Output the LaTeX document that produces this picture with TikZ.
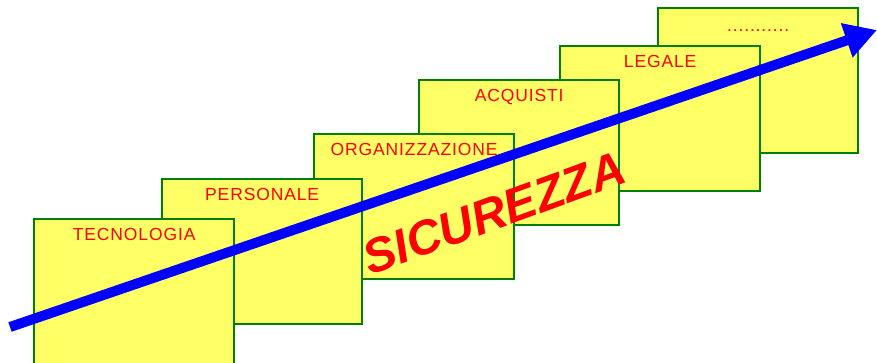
\documentclass[tikz,border=0pt]{standalone}
\usepackage{fontspec}
\setmainfont{Liberation Sans}
\usetikzlibrary{arrows.meta}
\definecolor{boxfill}{RGB}{255,255,102}
\definecolor{boxline}{RGB}{0,128,0}
\definecolor{lblred}{RGB}{255,0,0}
\definecolor{arrblue}{RGB}{0,0,255}
\begin{document}
\begin{tikzpicture}[x=1pt,y=-1pt,
  stepbox/.style={draw=boxline, fill=boxfill, line width=2.3pt, minimum width=200pt, minimum height=145pt, anchor=north west, inner sep=0pt},
  steplabel/.style={text=lblred, font=\fontsize{17.5}{17.5}\selectfont\addfontfeature{LetterSpace=5}, anchor=base, inner sep=0pt, yshift=-22pt},
  bigarrow/.style={draw=arrblue, line width=10pt, -{Triangle[length=32pt,width=34pt]}},
  bigtext/.style={text=lblred, font=\fontsize{48}{48}\bfseries\itshape\selectfont, rotate=20}
]
\clip (0,0) rectangle (877,362);
\fill[white] (0,0) rectangle (877,362);
\node[stepbox] (b6) at (657,7) {};
\node[stepbox] (b5) at (559,45) {};
\node[stepbox] (b4) at (418,79) {};
\node[stepbox] (b3) at (313,133) {};
\node[stepbox] (b2) at (161,178) {};
\node[stepbox, minimum height=160pt] (b1) at (33,218) {};
\node[steplabel] (l1) at (b1.north) {TECNOLOGIA};
\node[steplabel] (l2) at (b2.north) {PERSONALE};
\node[steplabel] (l3) at (b3.north) {ORGANIZZAZIONE};
\node[steplabel] (l4) at (b4.north) {ACQUISTI};
\node[steplabel] (l5) at (b5.north) {LEGALE};
\node[steplabel, yshift=-2pt] (l6) at (b6.north) {...........};
\coordinate (as) at (10,327);
\coordinate (ae) at (877,30);
\draw[bigarrow] (as) -- (ae);
\node[bigtext] (sic) at (494,213) {SICUREZZA};
\end{tikzpicture}
\end{document}
